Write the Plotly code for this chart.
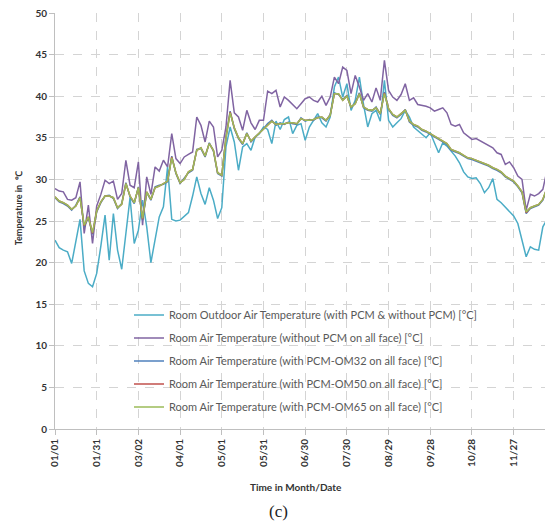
import plotly.graph_objects as go

# sample days (day of year, every 3 days)
days = list(range(0, 361, 3))

tick_days = [0, 30, 60, 90, 120, 150, 180, 210, 240, 270, 300, 330]
tick_labels = ["01/01", "01/31", "03/02", "04/01", "05/01", "05/31", "06/30",
               "07/30", "08/29", "09/28", "10/28", "11/27"]
last_tick_label = "12/27"

outdoor = [
    22.7, 21.8, 21.5, 21.3, 19.9, 22.5, 25.2, 19.0, 17.5, 17.1,
    18.7, 22.0, 25.7, 20.3, 25.9, 21.5, 19.2, 23.5, 27.8, 22.3,
    23.9, 27.5, 24.3, 20.0, 22.7, 25.5, 26.7, 31.5, 25.2, 25.0,
    25.1, 25.5, 26.0, 28.0, 30.3, 28.3, 27.0, 29.0, 27.5, 25.3,
    26.6, 33.9, 36.3, 34.5, 31.1, 33.9, 34.3, 33.5, 35.1, 35.5,
    36.3, 36.0, 34.3, 37.0, 36.0, 37.2, 37.5, 35.5, 36.5, 36.7,
    34.7, 36.3, 37.1, 37.9, 36.8, 36.3, 37.5, 41.1, 42.3, 39.9,
    41.5, 38.3, 39.5, 42.3, 39.0, 36.3, 37.9, 38.3, 37.0, 41.9,
    37.1, 36.3, 36.8, 37.3, 38.3, 37.5, 36.3, 35.9, 35.5, 35.0,
    35.6, 34.5, 33.2, 34.4, 34.0, 33.4, 32.8, 32.0, 30.9, 30.3,
    30.1, 30.2, 29.5, 28.4, 29.0, 30.1, 27.6, 27.2, 26.7, 26.2,
    25.6, 24.7, 22.5, 20.7, 21.9, 21.6, 21.5, 24.3, 25.2, 24.0,
    23.5]

no_pcm = [
    28.9, 28.6, 28.5, 27.6, 27.5, 27.8, 29.7, 23.5, 26.9, 22.3,
    26.8, 28.2, 29.9, 29.5, 29.8, 27.6, 28.3, 32.3, 29.3, 29.0,
    32.1, 24.5, 30.3, 28.2, 31.5, 31.0, 32.3, 31.5, 35.5, 32.5,
    31.9, 32.7, 33.0, 33.3, 37.5, 36.5, 34.5, 37.0, 36.3, 32.7,
    33.5, 36.3, 41.9, 38.0, 37.5, 35.9, 38.3, 36.8, 36.0, 37.1,
    37.1, 40.6, 40.3, 40.7, 38.7, 39.9, 39.5, 39.0, 38.5, 39.1,
    39.7, 39.9, 39.5, 39.3, 40.0, 38.9, 39.9, 42.3, 41.5, 43.5,
    43.1, 40.3, 42.5, 41.1, 39.5, 40.3, 39.3, 41.0, 39.5, 44.3,
    40.7, 39.9, 39.5, 40.2, 41.5, 39.5, 39.8, 39.0, 38.9, 38.8,
    38.6, 38.2, 38.4, 38.6, 38.0, 36.6, 36.4, 36.6, 35.6, 35.2,
    34.8, 34.9, 34.6, 34.3, 34.0, 33.8, 33.2, 33.0, 31.8, 32.1,
    31.4, 30.4, 30.0, 26.3, 28.2, 28.0, 28.3, 28.8, 31.1, 30.8,
    31.0]

om32 = [
    27.8, 27.3, 27.1, 26.8, 26.3, 26.9, 27.9, 24.3, 25.4, 23.4,
    26.1, 27.2, 28.0, 28.1, 27.7, 26.5, 27.1, 29.6, 27.9, 27.1,
    29.1, 25.1, 28.4, 27.5, 29.1, 29.3, 29.4, 29.7, 32.8, 30.7,
    29.5, 30.1, 30.8, 31.1, 33.6, 33.7, 32.7, 34.4, 33.4, 30.7,
    30.4, 35.1, 38.2, 36.1, 34.9, 34.2, 35.6, 34.5, 35.0, 35.5,
    36.1, 36.7, 37.1, 36.5, 36.8, 36.6, 36.9, 36.7, 36.6, 37.4,
    37.0, 37.2, 37.1, 37.5, 37.4, 37.0, 37.8, 40.4, 40.2, 39.6,
    40.1, 38.6, 39.2, 40.4, 38.6, 38.3, 38.2, 38.7, 37.8, 40.5,
    38.4, 37.7, 37.4, 37.8, 38.4, 36.9, 36.5, 36.3, 35.9, 35.7,
    35.4, 35.1, 34.8, 34.5, 34.2, 33.5, 33.3, 33.1, 32.8, 32.5,
    32.4, 32.2, 32.0, 31.8, 31.6, 31.3, 31.1, 30.8, 30.3, 30.0,
    29.7, 29.1, 28.4, 25.9, 26.5, 26.7, 26.9, 27.5, 28.9, 29.3,
    29.5]

om50 = [
    27.9, 27.4, 27.2, 26.9, 26.4, 26.8, 27.8, 24.4, 25.5, 23.5,
    26.2, 27.3, 28.0, 28.0, 27.8, 26.6, 27.0, 29.5, 28.0, 27.2,
    29.0, 25.2, 28.5, 27.6, 29.0, 29.2, 29.5, 29.8, 32.7, 30.8,
    29.6, 30.0, 30.9, 31.2, 33.5, 33.8, 32.8, 34.3, 33.5, 30.8,
    30.5, 35.0, 38.1, 36.2, 35.0, 34.3, 35.5, 34.6, 35.1, 35.6,
    36.0, 36.6, 37.0, 36.6, 36.7, 36.7, 36.8, 36.8, 36.7, 37.3,
    37.1, 37.1, 37.2, 37.4, 37.5, 37.1, 37.7, 40.3, 40.3, 39.5,
    40.0, 38.7, 39.1, 40.3, 38.7, 38.4, 38.3, 38.6, 37.9, 40.4,
    38.5, 37.8, 37.5, 37.9, 38.3, 37.0, 36.6, 36.4, 36.0, 35.8,
    35.5, 35.2, 34.9, 34.6, 34.3, 33.6, 33.4, 33.2, 32.9, 32.6,
    32.5, 32.3, 32.1, 31.9, 31.7, 31.4, 31.2, 30.9, 30.4, 30.1,
    29.8, 29.2, 28.5, 26.0, 26.6, 26.8, 27.0, 27.6, 29.0, 29.4,
    29.6]

om65 = [
    27.9, 27.4, 27.2, 26.9, 26.4, 26.8, 27.8, 24.5, 25.5, 23.6,
    26.2, 27.3, 28.0, 28.0, 27.8, 26.6, 27.0, 29.5, 28.0, 27.2,
    29.0, 25.3, 28.5, 27.6, 29.0, 29.2, 29.5, 29.8, 32.6, 30.8,
    29.6, 30.0, 30.9, 31.2, 33.5, 33.8, 32.8, 34.3, 33.5, 30.8,
    30.5, 35.0, 38.0, 36.2, 35.0, 34.3, 35.5, 34.6, 35.1, 35.6,
    36.0, 36.6, 37.0, 36.6, 36.7, 36.7, 36.8, 36.8, 36.7, 37.3,
    37.1, 37.1, 37.2, 37.4, 37.5, 37.1, 37.7, 40.3, 40.3, 39.5,
    40.0, 38.7, 39.1, 40.3, 38.7, 38.4, 38.3, 38.6, 37.9, 40.3,
    38.5, 37.8, 37.5, 37.9, 38.3, 37.0, 36.6, 36.4, 36.0, 35.8,
    35.5, 35.2, 34.9, 34.6, 34.3, 33.6, 33.4, 33.2, 32.9, 32.6,
    32.5, 32.3, 32.1, 31.9, 31.7, 31.4, 31.2, 30.9, 30.4, 30.1,
    29.8, 29.2, 28.5, 26.1, 26.6, 26.8, 27.0, 27.6, 29.0, 29.4,
    29.6]

series_names = [
    "Room Outdoor Air Temperature (with PCM & without PCM) [°C]",
    "Room Air Temperature (without PCM on all face) [°C]",
    "Room Air Temperature (with PCM-OM32 on all face) [°C]",
    "Room Air Temperature (with PCM-OM50 on all face) [°C]",
    "Room Air Temperature (with PCM-OM65 on all face) [°C]",
]
series_values = [outdoor, no_pcm, om32, om50, om65]
colors = ["#4bacc6", "#8064a2", "#4f81bd", "#c0504d", "#9bbb59"]

FONT = "Lato"
X_MAX = 358.3

fig = go.Figure()
for name, vals, col in zip(series_names, series_values, colors):
    fig.add_trace(go.Scatter(
        x=days, y=vals, mode="lines", name=name, legendgroup=name,
        line=dict(color=col, width=1.5),
    ))

# the page body adds an 8px margin, so the figure is 8px smaller than the window
fig.update_layout(
    width=545, height=522,
    margin=dict(l=47, r=0, t=5, b=101, autoexpand=False),
    paper_bgcolor="white", plot_bgcolor="white",
    font=dict(family=FONT, color="#404040"),
    showlegend=True,
    legend=dict(
        x=0.1486, y=0.309, xanchor="left", yanchor="top",
        bgcolor="rgba(0,0,0,0)", borderwidth=0,
        font=dict(family=FONT, size=11, color="#595959"),
        tracegroupgap=4, itemwidth=30,
    ),
    xaxis=dict(
        range=[0, X_MAX], tickmode="array", tickvals=tick_days, ticktext=tick_labels,
        tickangle=-90, tickfont=dict(family=FONT, size=10, color="#333333", weight="bold"),
        showgrid=True, gridcolor="#d4d4d4", griddash="dash", gridwidth=1,
        showline=True, linecolor="#bfbfbf", linewidth=1,
        ticks="outside", ticklen=5, tickcolor="#bfbfbf",
        zeroline=False, automargin=False, ticklabeloverflow="allow",
    ),
    yaxis=dict(
        range=[0, 50], dtick=5,
        tickfont=dict(family=FONT, size=10, color="#333333", weight="bold"),
        showgrid=True, gridcolor="#d4d4d4", griddash="dash", gridwidth=1,
        showline=True, linecolor="#bfbfbf", linewidth=1,
        ticks="outside", ticklen=5, tickcolor="#bfbfbf",
        zeroline=False, automargin=False, ticklabeloverflow="allow",
    ),
    annotations=[
        dict(text="Temperature in  ℃", x=-0.074, y=0.531, xref="paper", yref="paper",
             showarrow=False, textangle=-90, xanchor="center", yanchor="middle",
             font=dict(family=FONT, size=9, color="#333333", weight="bold")),
        dict(text="Time in Month/Date", x=0.484, y=-0.139, xref="paper", yref="paper",
             showarrow=False, xanchor="center", yanchor="middle",
             font=dict(family=FONT, size=10, color="#333333", weight="bold")),
        dict(text="(c)", x=0.448, y=-0.199, xref="paper", yref="paper",
             showarrow=False, xanchor="center", yanchor="middle",
             font=dict(family="Liberation Serif", size=17, color="#222222")),
        dict(text=last_tick_label, x=360 / X_MAX, y=0, xref="paper", yref="paper", yshift=-8,
             showarrow=False, textangle=-90, xanchor="center", yanchor="top",
             font=dict(family=FONT, size=10, color="#333333", weight="bold")),
    ],
)

fig.write_html("out.html")
